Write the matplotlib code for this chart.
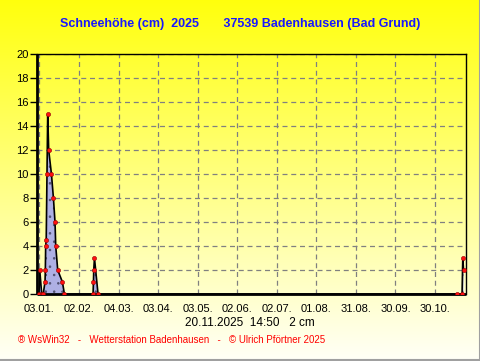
"""
Schneehoehe 2025 - Badenhausen, nachgebaut im WsWin32-Stil.
"""
import numpy as np
import pandas as pd
import matplotlib
matplotlib.use('Agg')
import matplotlib.pyplot as plt
import matplotlib.dates as mdates
from matplotlib.lines import Line2D

# Messpunkte (Zeitpunkt, Schneehoehe in cm)
times = ["2025-01-02 17:00", "2025-01-03 06:00", "2025-01-04 18:00", "2025-01-05 21:00",
         "2025-01-07 06:00", "2025-01-07 12:00", "2025-01-07 18:00", "2025-01-08 04:00",
         "2025-01-08 18:00", "2025-01-09 07:00", "2025-01-10 01:00", "2025-01-12 03:00",
         "2025-01-13 15:00", "2025-01-14 20:00", "2025-01-15 09:00", "2025-01-16 21:00",
         "2025-01-20 11:00", "2025-01-21 23:00",
         "2025-02-12 16:00", "2025-02-13 00:00", "2025-02-13 05:00", "2025-02-13 18:00",
         "2025-02-16 11:00",
         "2025-11-15 12:00", "2025-11-19 12:00", "2025-11-20 02:00", "2025-11-20 14:50"]
snow_cm = [0, 2, 0, 0,
           1, 2, 4, 4.5,
           10, 15, 12, 10,
           8, 6, 4, 2,
           1, 0,
           0, 1, 2, 3,
           0,
           0, 0, 3, 2]

tick_dates = ["2025-01-03", "2025-02-02", "2025-03-04", "2025-04-03", "2025-05-03",
              "2025-06-02", "2025-07-02", "2025-08-01", "2025-08-31", "2025-09-30",
              "2025-10-30"]
tick_labels = ["03.01.", "02.02.", "04.03.", "03.04.", "03.05.", "02.06.",
               "02.07.", "01.08.", "31.08.", "30.09.", "30.10."]

title = "Schneehöhe (cm)  2025       37539 Badenhausen (Bad Grund)"
stamp = "20.11.2025  14:50   2 cm"
footer = "® WsWin32   -   Wetterstation Badenhausen   -   © Ulrich Pförtner 2025"

t = pd.to_datetime(times)
tx = mdates.date2num(t)
ticks = mdates.date2num(pd.to_datetime(tick_dates))

plt.rcParams['font.family'] = ['Liberation Sans', 'DejaVu Sans']
plt.rcParams['hatch.linewidth'] = 0.6

fig = plt.figure(figsize=(4.81, 3.61), dpi=100)

# Hintergrund: Verlauf gelb -> fast weiss
bg = fig.add_axes([0, 0, 1, 1], zorder=-10)
grad = np.linspace(0, 1, 256).reshape(-1, 1)
top = np.array([1.0, 1.0, 0.05])
bot = np.array([1.0, 1.0, 0.97])
img = top + (bot - top) * grad[:, :, None] * np.ones((1, 1, 3))
bg.imshow(img, aspect='auto', extent=[0, 1, 0, 1])
bg.set_axis_off()

ax = fig.add_axes([0.0769, 0.1856, 0.8919, 0.6648])
ax.set_facecolor('none')

# Flaeche unter der Kurve
ax.fill_between(tx, snow_cm, 0, facecolor='#aeb0e4', edgecolor='#505070',
                hatch='..', linewidth=0, zorder=2)
ax.plot(tx, snow_cm, color='black', lw=1.2, zorder=3)
ax.plot(tx, snow_cm, ls='none', marker='o', ms=3.0, mfc='#ff1010',
        mec='#900000', mew=0.4, zorder=4)

ax.set_xlim(mdates.date2num(pd.Timestamp("2025-01-01 04:00")),
            mdates.date2num(pd.Timestamp("2025-11-22 12:00")))
ax.set_ylim(0, 20)
ax.set_xticks(ticks)
ax.set_xticklabels(tick_labels)
ax.set_yticks(np.arange(0, 21, 2))
ax.tick_params(axis='x', length=0, pad=7, labelsize=8)
ax.tick_params(axis='y', length=5, width=1, pad=1, labelsize=8)
ax.grid(True, color='#808080', ls=(0, (4, 3)), lw=0.9)

for s in ['left', 'bottom']:
    ax.spines[s].set_linewidth(2)
    ax.spines[s].set_capstyle('butt')
for s in ['top', 'right']:
    ax.spines[s].set_linewidth(1)

fig.text(0.499, 0.933, title, ha='center', va='center', fontsize=9,
         fontweight='bold', color='#1818ff')
fig.text(0.52, 1 - 322.5 / 361, stamp, ha='center', va='center', fontsize=8.5,
         color='black')
fig.text(17.5 / 481, 1 - 340 / 361, footer, ha='left', va='center', fontsize=7,
         color='#ff0000')

# grauer Rand rechts und unten
fig.add_artist(Line2D([0.9985, 0.9985], [0, 1], color='#a0a0a0', lw=1.5,
                      transform=fig.transFigure))
fig.add_artist(Line2D([0, 1], [0.002, 0.002], color='#a0a0a0', lw=1.5,
                      transform=fig.transFigure))

fig.savefig('out.png', dpi=100)
